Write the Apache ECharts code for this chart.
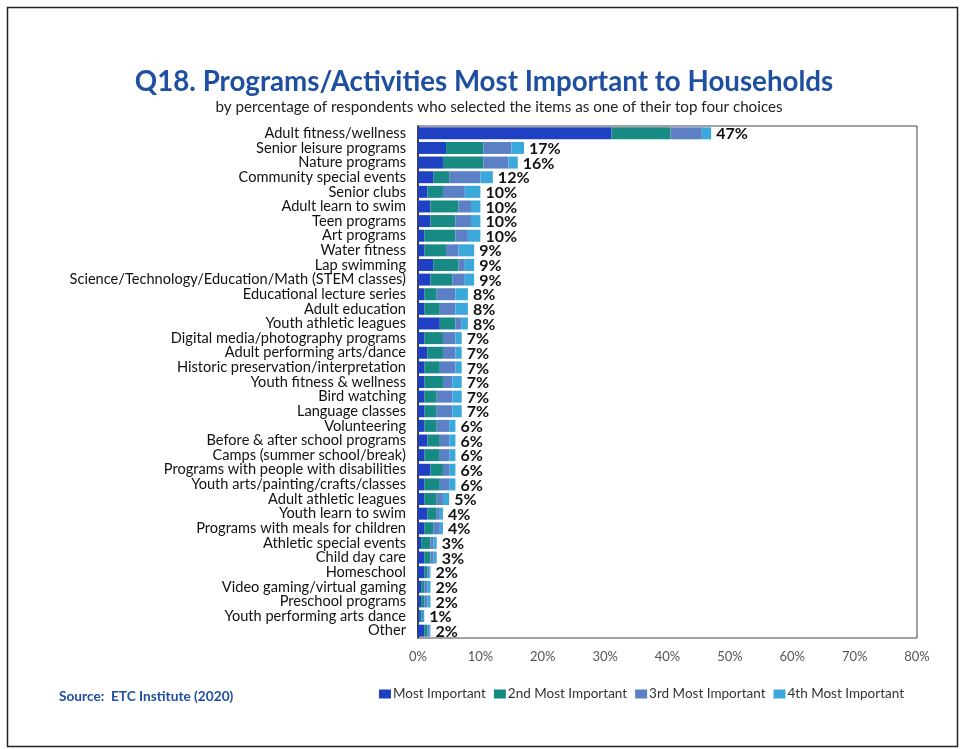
<!DOCTYPE html>
<html>
<head>
<meta charset="utf-8">
<script src="https://cdn.jsdelivr.net/npm/echarts@6/dist/echarts.min.js"></script>
<style>
  html, body { margin: 0; padding: 0; background: #ffffff; }
  #chart { width: 961px; height: 749px; }
</style>
</head>
<body>
<div id="chart"></div>
<script>
// Program categories, top to bottom
const categories = [
  "Adult fitness/wellness",
  "Senior leisure programs",
  "Nature programs",
  "Community special events",
  "Senior clubs",
  "Adult learn to swim",
  "Teen programs",
  "Art programs",
  "Water fitness",
  "Lap swimming",
  "Science/Technology/Education/Math (STEM classes)",
  "Educational lecture series",
  "Adult education",
  "Youth athletic leagues",
  "Digital media/photography programs",
  "Adult performing arts/dance",
  "Historic preservation/interpretation",
  "Youth fitness & wellness",
  "Bird watching",
  "Language classes",
  "Volunteering",
  "Before & after school programs",
  "Camps (summer school/break)",
  "Programs with people with disabilities",
  "Youth arts/painting/crafts/classes",
  "Adult athletic leagues",
  "Youth learn to swim",
  "Programs with meals for children",
  "Athletic special events",
  "Child day care",
  "Homeschool",
  "Video gaming/virtual gaming",
  "Preschool programs",
  "Youth performing arts dance",
  "Other"
];

// Share of respondents choosing each item (percent)
const mostImportant   = [31, 4.5, 4, 2.5, 1.5, 2, 2, 1, 1, 2.5, 2, 1, 1, 3.5, 1, 1.5, 1, 1, 1, 1, 1, 1.5, 1, 2, 1, 1, 1.5, 1, 0.5, 1, 1, 0.5, 0.5, 0.3, 1];
const secondImportant = [9.5, 6, 6.5, 2.5, 2.5, 4.5, 4, 5, 3.5, 4, 3.5, 2, 2.5, 2.5, 3, 2.5, 2.5, 3, 2, 2, 2, 2, 2.5, 2, 2.5, 2, 1.5, 1.5, 1.5, 1, 0.5, 0.5, 0.5, 0.3, 0.5];
const thirdImportant  = [5, 4.5, 4, 5, 3.5, 2, 2.5, 2, 2, 1, 2, 3, 2.5, 1, 2, 2, 2.5, 1.5, 2.5, 2.5, 2, 1.5, 1.5, 1, 1.5, 1, 0.5, 1, 0.5, 0.5, 0.3, 0.5, 0.5, 0.2, 0.3];
const fourthImportant = [1.5, 2, 1.5, 2, 2.5, 1.5, 1.5, 2, 2.5, 1.5, 1.5, 2, 2, 1, 1, 1, 1, 1.5, 1.5, 1.5, 1, 1, 1, 1, 1, 1, 0.5, 0.5, 0.5, 0.5, 0.2, 0.5, 0.5, 0.2, 0.2];

// Axis tick values (percent)
const xTicks = [0, 10, 20, 30, 40, 50, 60, 70, 80];

const seriesNames = ["Most Important", "2nd Most Important", "3rd Most Important", "4th Most Important"];
const seriesColors = ["#1f40c2", "#178a84", "#5b80c6", "#3aa8da"];
const seriesData = [mostImportant, secondImportant, thirdImportant, fourthImportant];

const totals = categories.map((_, i) =>
  seriesData.reduce((s, arr) => s + arr[i], 0));

const chart = echarts.init(document.getElementById('chart'), null, { renderer: 'canvas' });

const font = "Lato, 'Open Sans', sans-serif";

const series = seriesNames.map((name, k) => ({
  name: name,
  type: 'bar',
  stack: 'total',
  data: seriesData[k],
  barCategoryGap: '18%',
  itemStyle: { color: seriesColors[k] },
  label: k === 3 ? {
    show: true,
    position: 'right',
    distance: 5,
    offset: [0, 1],
    formatter: p => Math.round(totals[p.dataIndex]) + '%',
    color: '#111',
    fontWeight: 'bold',
    fontSize: 16,
    fontFamily: font
  } : { show: false },
  emphasis: { disabled: true },
  animation: false
}));

chart.setOption({
  backgroundColor: '#ffffff',
  animation: false,
  title: [
    {
      text: 'Q18. Programs/Activities Most Important to Households',
      left: 479,
      textAlign: 'center',
      top: 63,
      textStyle: { color: '#1f4fa0', fontSize: 27.7, fontWeight: 'bold', fontFamily: font }
    },
    {
      text: 'by percentage of respondents who selected the items as one of their top four choices',
      left: 494,
      textAlign: 'center',
      top: 95,
      textStyle: { color: '#222', fontSize: 15.2, fontWeight: 'normal', fontFamily: font }
    },
    {
      text: 'Source:  ETC Institute (2020)',
      left: 54,
      top: 685,
      textStyle: { color: '#1f4fa0', fontSize: 13.7, fontWeight: 'bold', fontFamily: font }
    }
  ],
  legend: {
    data: seriesNames,
    left: 374,
    top: 682,
    itemWidth: 12,
    itemHeight: 9,
    itemGap: 8,
    icon: 'rect',
    textStyle: { color: '#333', fontSize: 13.5, fontFamily: font, padding: [0, 0, 0, -3] }
  },
  grid: {
    left: 418,
    right: 44,
    top: 126,
    bottom: 111,
    show: true,
    borderColor: '#444',
    borderWidth: 1,
    containLabel: false
  },
  xAxis: {
    type: 'value',
    min: xTicks[0],
    max: xTicks[xTicks.length - 1],
    interval: 10,
    axisLine: { show: false },
    axisTick: { show: false },
    splitLine: { show: false },
    axisLabel: {
      formatter: v => v + '%',
      color: '#555',
      fontSize: 13,
      margin: 12,
      fontFamily: font
    }
  },
  yAxis: {
    type: 'category',
    data: categories,
    inverse: true,
    axisLine: { show: true, lineStyle: { color: '#222', width: 1.5 } },
    axisTick: { show: false },
    axisLabel: {
      color: '#111',
      fontSize: 14.6,
      margin: 12,
      interval: 0,
      fontFamily: font
    }
  },
  series: series,
  graphic: [
    {
      type: 'rect',
      left: 5,
      top: 5,
      shape: { width: 950, height: 739 },
      style: { fill: 'none', stroke: '#222', lineWidth: 1.5 },
      silent: true
    }
  ]
});
</script>
</body>
</html>
